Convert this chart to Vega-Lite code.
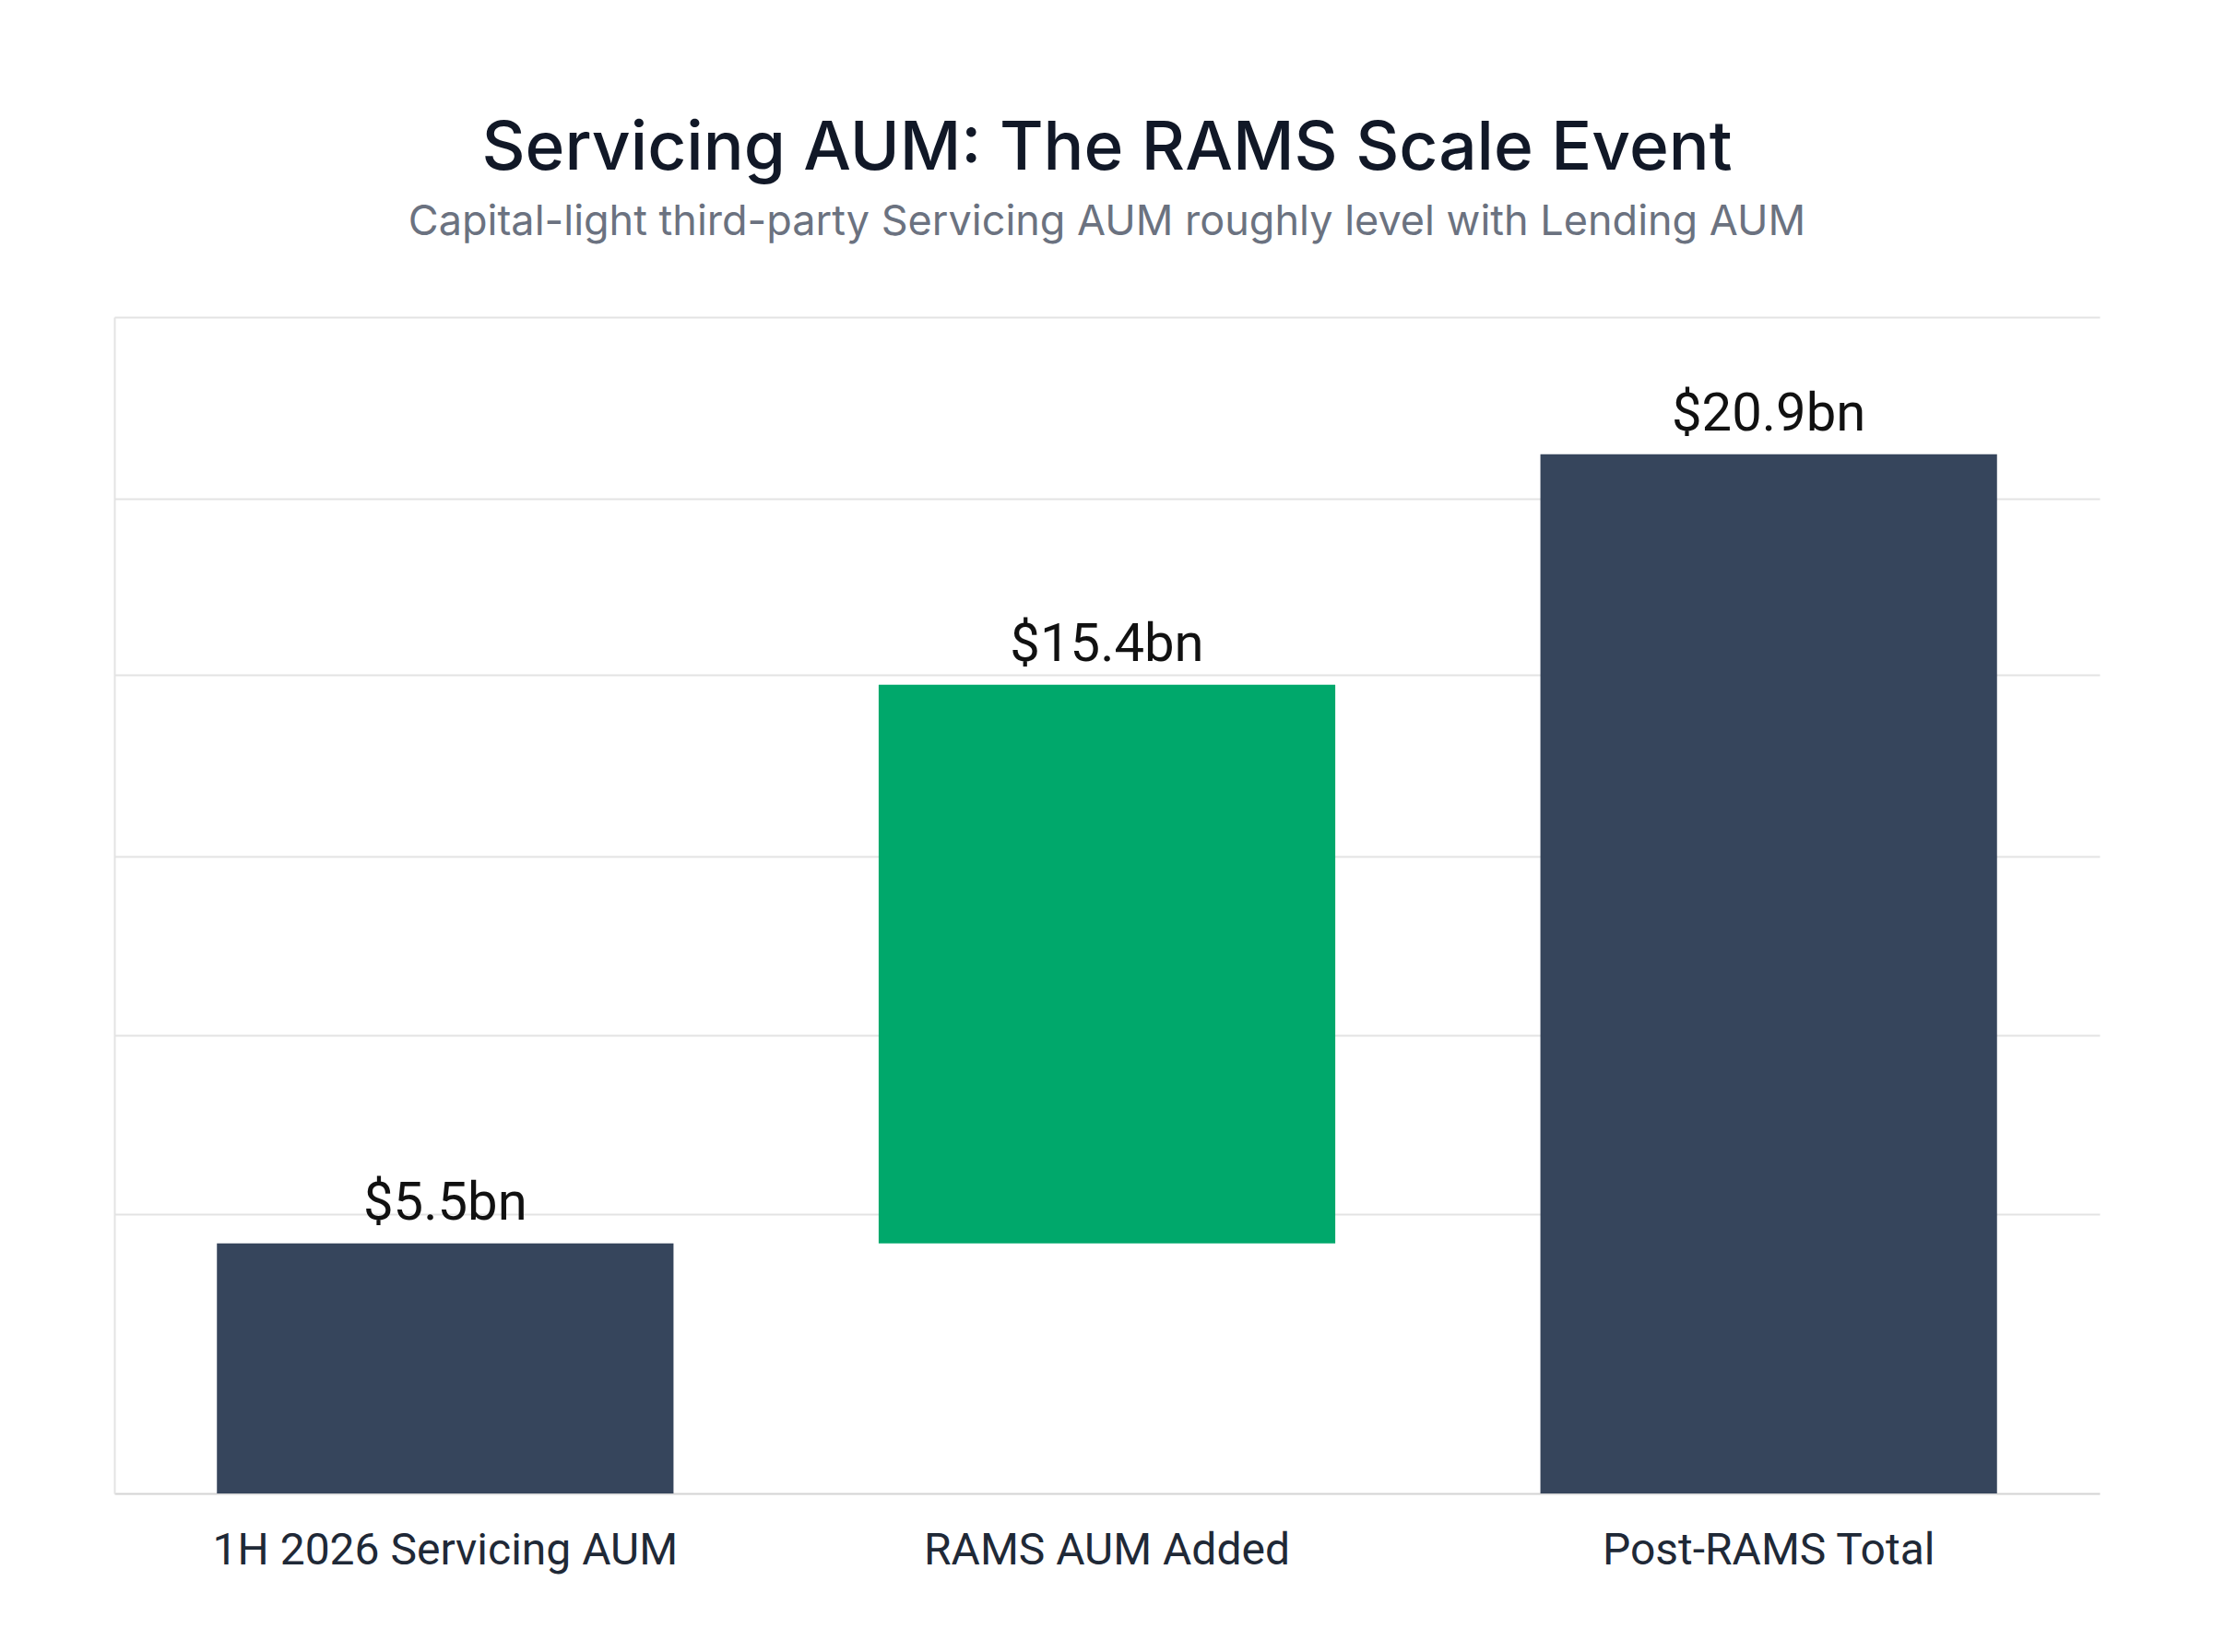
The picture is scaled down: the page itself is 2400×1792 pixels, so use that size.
{
  "$schema": "https://vega.github.io/schema/vega-lite/v6.json",
  "width": 2153,
  "height": 1276,
  "autosize": "none",
  "padding": {"left": 124, "top": 344, "right": 123, "bottom": 172},
  "background": "white",
  "title": {
    "text": "Servicing AUM: The RAMS Scale Event",
    "subtitle": "Capital-light third-party Servicing AUM roughly level with Lending AUM",
    "anchor": "middle",
    "font": "Inter",
    "fontSize": 73,
    "fontWeight": 500,
    "color": "#111827",
    "subtitleFont": "Inter",
    "subtitleFontSize": 45,
    "subtitleColor": "#6b7280",
    "subtitlePadding": 20,
    "offset": 80
  },
  "data": {
    "values": [
      {"stage": "1H 2026 Servicing AUM", "start": 0, "end": 5.1, "label": "$5.5bn", "kind": "total"},
      {"stage": "RAMS AUM Added", "start": 5.1, "end": 16.5, "label": "$15.4bn", "kind": "added"},
      {"stage": "Post-RAMS Total", "start": 0, "end": 21.2, "label": "$20.9bn", "kind": "total"}
    ]
  },
  "config": {"view": {"stroke": null}},
  "encoding": {
    "x": {
      "field": "stage", "type": "nominal", "sort": null, "title": null,
      "scale": {"paddingInner": 0.31, "paddingOuter": 0.155},
      "axis": {"labelAngle": 0, "labelLimit": 0, "labelFont": "Roboto", "labelFontSize": 48, "labelColor": "#1f2937", "labelPadding": 38, "ticks": false, "domainColor": "#d4d4d4", "domainWidth": 2}
    }
  },
  "layer": [
    {
      "mark": {"type": "bar"},
      "encoding": {
        "y": {
          "field": "end", "type": "quantitative", "title": null,
          "scale": {"domain": [0, 24], "nice": false},
          "axis": {"values": [5.7, 9.35, 13, 16.7, 20.3, 24], "labels": false, "ticks": false, "gridColor": "#e3e3e3", "gridWidth": 2, "domainColor": "#e3e3e3", "domainWidth": 2}
        },
        "y2": {"field": "start"},
        "color": {"field": "kind", "type": "nominal", "legend": null,
          "scale": {"domain": ["total", "added"], "range": ["#36455c", "#00a86b"]}}
      }
    },
    {
      "mark": {"type": "text", "baseline": "bottom", "dy": -14, "font": "Roboto", "fontSize": 58, "color": "#111111"},
      "encoding": {
        "y": {"field": "end", "type": "quantitative"},
        "text": {"field": "label"}
      }
    }
  ]
}
